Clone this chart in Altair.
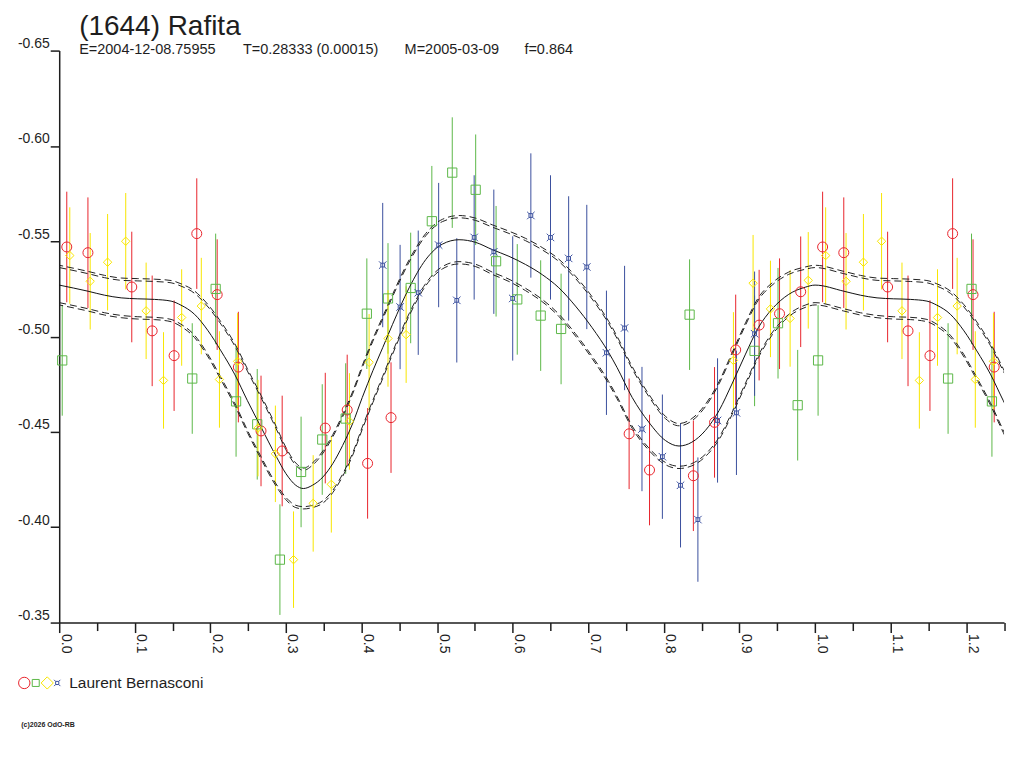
import altair as alt
import pandas as pd

# ---------------- data ----------------
red_phase = [0.010, 0.038, 0.096, 0.123, 0.152, 0.182, 0.209, 0.237, 0.267, 0.295, 0.352,
             0.381, 0.408, 0.439, 0.754, 0.781, 0.839, 0.867, 0.895, 0.926, 0.953, 0.981]
red_mag = [-0.547, -0.544, -0.526, -0.503, -0.490, -0.554, -0.522, -0.484, -0.4505, -0.440, -0.452,
           -0.4615, -0.4335, -0.4575, -0.449, -0.430, -0.427, -0.455, -0.493, -0.506, -0.512, -0.5235]
red_err = [0.029] * 22

green_phase = [0.004, 0.176, 0.207, 0.234, 0.262, 0.292, 0.320, 0.348, 0.379, 0.407, 0.435, 0.465,
               0.493, 0.520, 0.551, 0.578, 0.606, 0.637, 0.664, 0.834, 0.920, 0.951, 0.977]
green_mag = [-0.4875, -0.478, -0.525, -0.466, -0.454, -0.383, -0.429, -0.446, -0.457, -0.512, -0.520,
             -0.5255, -0.5605, -0.586, -0.577, -0.5395, -0.5195, -0.511, -0.504, -0.5115, -0.4925,
             -0.507, -0.464]
green_err = [0.029] * 23

yellow_phase = [0.014, 0.041, 0.064, 0.088, 0.115, 0.138, 0.162, 0.188, 0.212, 0.236, 0.263, 0.286,
                0.310, 0.336, 0.360, 0.384, 0.410, 0.435, 0.459, 0.892, 0.918, 0.941, 0.967, 0.991]
yellow_mag = [-0.5425, -0.529, -0.539, -0.550, -0.5135, -0.477, -0.510, -0.516, -0.4775, -0.487,
              -0.452, -0.4385, -0.383, -0.4125, -0.4225, -0.4555, -0.4865, -0.499, -0.501, -0.4875,
              -0.528, -0.5145, -0.5095, -0.5295]
yellow_err = [0.0253] * 24

blue_phase = [0.428, 0.451, 0.475, 0.502, 0.526, 0.549, 0.575, 0.600, 0.624, 0.650, 0.674, 0.698,
              0.724, 0.748, 0.771, 0.798, 0.822, 0.845, 0.871, 0.896, 0.920]
blue_mag = [-0.5375, -0.5155, -0.523, -0.548, -0.519, -0.552, -0.5445, -0.520, -0.5635, -0.552,
            -0.541, -0.5365, -0.4915, -0.5045, -0.4515, -0.437, -0.422, -0.404, -0.456, -0.460, -0.5015]
blue_err = [0.0326] * 21

curve_phase = [0.000, 0.038, 0.060, 0.082, 0.104, 0.126, 0.148, 0.161, 0.179, 0.197, 0.214, 0.232,
               0.249, 0.267, 0.287, 0.300, 0.313, 0.323, 0.335, 0.349, 0.362, 0.375, 0.388, 0.401,
               0.415, 0.428, 0.441, 0.463, 0.485, 0.507, 0.529, 0.551, 0.573, 0.595, 0.617, 0.639,
               0.661, 0.683, 0.705, 0.727, 0.738, 0.758, 0.780, 0.802, 0.820, 0.837, 0.855, 0.873,
               0.890, 0.908, 0.925, 0.943, 0.965, 0.987]
curve_mag = [-0.5270, -0.5238, -0.5217, -0.5203, -0.5198, -0.5195, -0.5186, -0.5165, -0.5117, -0.5030,
             -0.4925, -0.4803, -0.4664, -0.4525, -0.4372, -0.4281, -0.4220, -0.4203, -0.4220, -0.4264,
             -0.4334, -0.4429, -0.4542, -0.4681, -0.4821, -0.4942, -0.5064, -0.5256, -0.5404, -0.5485,
             -0.5508, -0.5494, -0.5456, -0.5421, -0.5378, -0.5325, -0.5256, -0.5160, -0.5047, -0.4916,
             -0.4838, -0.4681, -0.4551, -0.4455, -0.4426, -0.4446, -0.4508, -0.4612, -0.4751, -0.4908,
             -0.5047, -0.5144, -0.5221, -0.5259]
band_half = [0.0092, 0.0092, 0.0092, 0.0092, 0.0094, 0.0094, 0.0096, 0.0100, 0.0110, 0.0125, 0.0140,
             0.0150, 0.0155, 0.0155, 0.0145, 0.0125, 0.0105, 0.0095, 0.0105, 0.0125, 0.0140, 0.0150,
             0.0155, 0.0155, 0.0155, 0.0150, 0.0145, 0.0135, 0.0125, 0.0118, 0.0115, 0.0115, 0.0118,
             0.0120, 0.0125, 0.0130, 0.0138, 0.0145, 0.0150, 0.0152, 0.0152, 0.0150, 0.0135, 0.0115,
             0.0106, 0.0112, 0.0125, 0.0140, 0.0150, 0.0152, 0.0145, 0.0125, 0.0105, 0.0094]

x_ticks = [0.0, 0.05, 0.1, 0.15, 0.2, 0.25, 0.3, 0.35, 0.4, 0.45, 0.5, 0.55, 0.6, 0.65, 0.7, 0.75,
           0.8, 0.85, 0.9, 0.95, 1.0, 1.05, 1.1, 1.15, 1.2, 1.25]
y_ticks = [-0.65, -0.60, -0.55, -0.50, -0.45, -0.40, -0.35]

series_names = ["red", "green", "yellow", "blue"]
series_colors = ["#e8242c", "#5cb848", "#f8e600", "#3a4f9e"]
blue_shape = ("M-0.5,-0.5H0.5V0.5H-0.5Z M-1,-1L-0.5,-0.5 M1,-1L0.5,-0.5 "
              "M-1,1L-0.5,0.5 M1,1L0.5,0.5")
series_shapes = ["circle", "square", "diamond", blue_shape]
series_sizes = [100, 56, 190, 70]

title_text = "(1644) Rafita"
sub_texts = ["E=2004-12-08.75955", "T=0.28333 (0.00015)", "M=2005-03-09", "f=0.864"]
observer = "Laurent Bernasconi"
copyright_text = "(c)2026 OdO-RB"

# ---------------- build tables ----------------
rows = []
for name, ph, mg, er in [("red", red_phase, red_mag, red_err),
                         ("green", green_phase, green_mag, green_err),
                         ("yellow", yellow_phase, yellow_mag, yellow_err),
                         ("blue", blue_phase, blue_mag, blue_err)]:
    for p, m, e in zip(ph, mg, er):
        rows.append({"series": name, "phase": p, "mag": m, "err": e})
        if p + 1.0 <= 1.25:
            rows.append({"series": name, "phase": p + 1.0, "mag": m, "err": e})
pts = pd.DataFrame(rows)
pts["lo"] = pts["mag"] - pts["err"]
pts["hi"] = pts["mag"] + pts["err"]

crow = []
for p, m, w in zip(curve_phase, curve_mag, band_half):
    crow.append({"phase": p, "mag": m, "w": w})
for p, m, w in zip(curve_phase, curve_mag, band_half):
    if p <= 0.27:
        crow.append({"phase": p + 1.0, "mag": m, "w": w})
crv = pd.DataFrame(crow).sort_values("phase")

FONT = "Liberation Sans"
INK = "#1e1e1e"

xscale = alt.Scale(domain=[0, 1.25], nice=False, zero=False)
yscale = alt.Scale(domain=[-0.65, -0.35], reverse=True, nice=False, zero=False)

xaxis = alt.Axis(values=x_ticks, title=None, grid=False,
                 labelExpr="(round(datum.value*100) % 10 == 0) ? format(datum.value, '.1f') : ''",
                 labelAngle=90, labelAlign="left", labelBaseline="alphabetic",
                 labelOffset=2, labelPadding=1, labelFontSize=14, labelFont=FONT,
                 labelColor=INK, labelOverlap=False, labelFlush=False, labelBound=False,
                 domainColor=INK, domainWidth=1.5, tickColor=INK, tickWidth=1.5,
                 tickSize={"condition": {"test": "round(datum.value*100) % 10 == 0", "value": 10},
                           "value": 8})
yaxis = alt.Axis(values=y_ticks, title=None, grid=False,
                 labelExpr="(datum.value < 0 ? '-' : '') + format(abs(datum.value), '.2f')",
                 labelAlign="right", labelBaseline="bottom", labelPadding=1,
                 labelFontSize=14, labelFont=FONT, labelColor=INK, labelOverlap=False,
                 labelFlush=False, labelBound=False,
                 domainColor=INK, domainWidth=1.5, tickColor=INK, tickWidth=1.5, tickSize=9)


def X():
    return alt.X("phase:Q", scale=xscale, axis=xaxis)


def Y(f):
    return alt.Y(f + ":Q", scale=yscale, axis=yaxis)


color_scale = alt.Scale(domain=series_names, range=series_colors)

bars = alt.Chart(pts).mark_rule(strokeWidth=1).encode(
    x=X(),
    y=Y("lo"),
    y2="hi:Q",
    color=alt.Color("series:N", scale=color_scale, legend=None),
)

curve = alt.Chart(crv).mark_line(color="#111111", strokeWidth=1, interpolate="monotone",
                                 clip=True).encode(x=X(), y=Y("mag"), order="phase:Q")

band_layers = []
for key, expr, dash, off in [
    ("u1", "datum.mag - datum.w", [7, 4], 0),
    ("u2", "datum.mag - datum.w - 0.0012", [7, 4], 3),
    ("l1", "datum.mag + datum.w", [7, 4], 0),
    ("l2", "datum.mag + datum.w + 0.0012", [7, 4], 3),
]:
    band_layers.append(
        alt.Chart(crv).transform_calculate(**{key: expr}).mark_line(
            color="#222222", strokeWidth=1, strokeDash=dash, strokeDashOffset=off,
            interpolate="monotone", clip=True
        ).encode(x=X(), y=Y(key), order="phase:Q")
    )

points = alt.Chart(pts).mark_point(filled=False, strokeWidth=1, opacity=1).encode(
    x=X(),
    y=Y("mag"),
    color=alt.Color("series:N", scale=color_scale, legend=None),
    shape=alt.Shape("series:N", scale=alt.Scale(domain=series_names, range=series_shapes),
                    legend=None),
    size=alt.Size("series:N", scale=alt.Scale(domain=series_names, range=series_sizes),
                  legend=None),
)

one = pd.DataFrame({"k": [0]})


def label(text, x, y, size, weight="normal", color=INK):
    return alt.Chart(one).mark_text(text=text, align="left", baseline="alphabetic",
                                    font=FONT, fontSize=size, fontWeight=weight,
                                    color=color).encode(x=alt.value(x), y=alt.value(y))


texts = [
    label(title_text, 20, -16, 28),
    label(sub_texts[0], 20, 3, 14.5),
    label(sub_texts[1], 184, 3, 14.5),
    label(sub_texts[2], 346, 3, 14.5),
    label(sub_texts[3], 466, 3, 14.5),
    label(observer, 10, 639, 15.5),
    label(copyright_text, -38, 678, 7, weight="bold"),
]

leg_marks = []
for shp, col, sz, xx in [("circle", series_colors[0], 130, -35),
                         ("square", series_colors[1], 49, -23.5),
                         ("diamond", series_colors[2], 150, -12),
                         (blue_shape, series_colors[3], 40, -2)]:
    leg_marks.append(
        alt.Chart(one).mark_point(shape=shp, filled=False, color=col, size=sz, strokeWidth=1,
                                  opacity=1).encode(x=alt.value(xx), y=alt.value(633.5))
    )

chart = alt.layer(bars, *band_layers, curve, points, *texts, *leg_marks).properties(
    width=946.5,
    height=573,
    autosize=alt.AutoSizeParams(type="none"),
    padding={"left": 51.3, "top": 42, "right": 12, "bottom": 125},
    background="white",
).configure_view(stroke=None)

chart.save("out.html", embed_options={"renderer": "svg", "actions": False})
